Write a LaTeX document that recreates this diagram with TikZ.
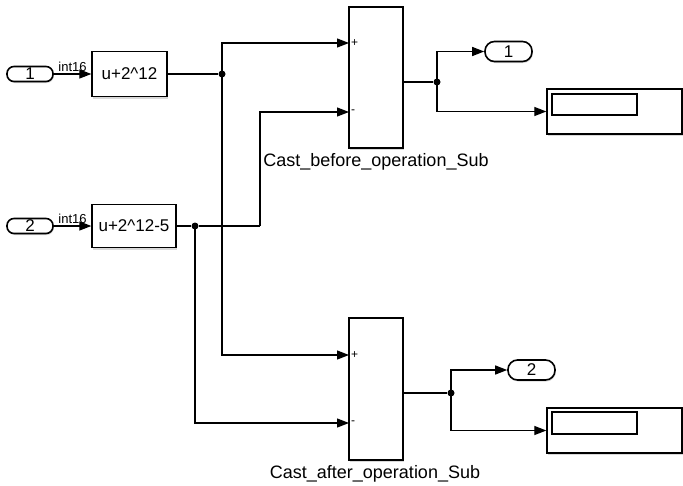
\documentclass[tikz,border=0pt]{standalone}
\usepackage{fontspec}
\setmainfont{Liberation Sans}
\usetikzlibrary{arrows.meta,positioning,shadows}

\begin{document}
\begin{tikzpicture}[
  x=1pt, y=-1pt, >={Triangle[length=12pt,width=9pt]},
  every node/.style={font=\fontsize{17}{19}\selectfont},
  every path/.style={line width=1.2pt},
  blk/.style={draw, fill=white, inner sep=0pt, line width=1.3pt,
              drop shadow={shadow xshift=1pt, shadow yshift=-2pt, opacity=0.3}},
  port/.style={draw, fill=white, rounded corners=7pt, inner sep=0pt, line width=1.6pt,
               minimum width=46pt, minimum height=15pt,
               drop shadow={shadow xshift=0.8pt, shadow yshift=-1.5pt, opacity=0.3}},
  oport/.style={port, rounded corners=9.5pt, minimum width=47pt, minimum height=20pt},
  dot/.style={circle, fill, inner sep=0pt, minimum size=7pt},
  sgn/.style={font=\fontsize{12}{12}\selectfont, anchor=west, inner sep=1.5pt},
  lbl/.style={font=\fontsize{18}{20}\selectfont},
]
\useasboundingbox (0,0) rectangle (683,485);

% inputs and gains
\node[port] (in1) at (30,74) {1};
\node[port] (in2) at (30,226) {2};
\node[blk, minimum width=75pt, minimum height=45pt] (g1) at (129.5,74)
  {u+2\textasciicircum 12};
\node[blk, minimum width=84pt, minimum height=43pt] (g2) at (134,226)
  {u+2\textasciicircum 12-5};

% subtract blocks
\node[blk, minimum width=54pt, minimum height=141pt] (sub1) at (376,77.5) {};
\node[blk, minimum width=54pt, minimum height=142pt] (sub2) at (376,389) {};
\node[lbl] (lab1) at (376,162) {Cast\_before\_operation\_Sub};
\node[lbl] (lab2) at (375,474) {Cast\_after\_operation\_Sub};
\coordinate (s1p) at (349,43);
\coordinate (s1m) at (349,112);
\coordinate (s2p) at (349,355);
\coordinate (s2m) at (349,423);
\coordinate (s1o) at (403,82);
\coordinate (s2o) at (403,393);
\node[sgn] (p1) at (s1p) {+};
\node[sgn] (m1) at (s1m) {-};
\node[sgn] (p2) at (s2p) {+};
\node[sgn] (m2) at (s2m) {-};

% outports and displays
\node[oport] (out1) at (508.5,51.5) {1};
\node[oport] (out2) at (531.5,370) {2};
\node[blk, minimum width=135pt, minimum height=45pt] (disp1) at (614.5,111.5) {};
\node[blk, minimum width=135pt, minimum height=45pt] (disp2) at (614.5,430.5) {};
\node[draw, line width=1.3pt, minimum width=85pt, minimum height=21pt, inner sep=0pt]
  (win1) at (594.5,104.5) {};
\node[draw, line width=1.3pt, minimum width=85pt, minimum height=22pt, inner sep=0pt]
  (win2) at (594.5,423) {};

% branch points
\node[dot] (j1) at (222,74) {};
\node[dot] (j2) at (195,226) {};
\node[dot] (j3) at (437,82) {};
\node[dot] (j4) at (451,393) {};
\coordinate (b1) at (260,226);

% signals
\draw[->] (in1) -- node[above, inner sep=2pt, font=\fontsize{13}{14}\selectfont] {int16} (g1);
\draw[->] (in2) -- node[above, inner sep=2pt, font=\fontsize{13}{14}\selectfont] {int16} (g2);
\draw (g1) -- (j1);
\draw[->] (j1.center) |- (s1p);
\draw[->] (j1.center) |- (s2p);
\draw (g2) -- (j2);
\draw (j2) -- (b1);
\draw[->] (b1) |- (s1m);
\draw[->] (j2.center) |- (s2m);
\draw (s1o) -- (j3);
\draw[->] (j3.center) |- (out1);
\draw[->] (j3.center) |- (disp1);
\draw (s2o) -- (j4);
\draw[->] (j4.center) |- (out2);
\draw[->] (j4.center) |- (disp2);
\end{tikzpicture}
\end{document}
